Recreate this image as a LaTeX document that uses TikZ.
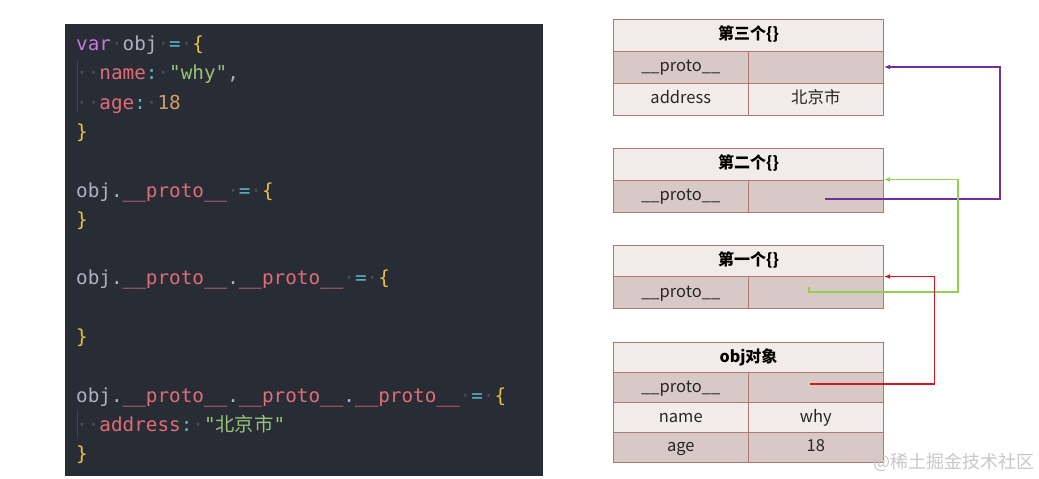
\documentclass[tikz,border=0pt]{standalone}
\usepackage{fontspec}
\setmonofont{DejaVu Sans Mono}
\newfontfamily\cjk{Noto Sans CJK SC}
\usetikzlibrary{arrows.meta}
\definecolor{codebg}{RGB}{40,44,52}
\definecolor{kwc}{RGB}{198,120,221}
\definecolor{idc}{RGB}{171,178,191}
\definecolor{opc}{RGB}{86,182,194}
\definecolor{brc}{RGB}{229,196,60}
\definecolor{prc}{RGB}{224,108,117}
\definecolor{stc}{RGB}{152,195,121}
\definecolor{nmc}{RGB}{209,154,102}
\definecolor{wsc}{RGB}{72,77,88}
\definecolor{guidec}{RGB}{62,67,77}
\definecolor{bordc}{RGB}{172,122,112}
\definecolor{hdrc}{RGB}{241,236,233}
\definecolor{darkc}{RGB}{216,201,199}
\definecolor{lightc}{RGB}{242,237,235}
\definecolor{arrp}{RGB}{112,48,160}
\definecolor{arrg}{RGB}{146,208,80}
\definecolor{arrr}{RGB}{210,25,35}
\definecolor{wmc}{RGB}{200,200,200}
\newcommand\cKw[1]{\textcolor{kwc}{#1}}
\newcommand\cId[1]{\textcolor{idc}{#1}}
\newcommand\cOp[1]{\textcolor{opc}{#1}}
\newcommand\cBr[1]{\textcolor{brc}{#1}}
\newcommand\cPr[1]{\textcolor{prc}{#1}}
\newcommand\cSt[1]{\textcolor{stc}{#1}}
\newcommand\cNm[1]{\textcolor{nmc}{#1}}
\newcommand\cWs{\textcolor{wsc}{·}}
\newcommand\cProto{\cPr{\_\_proto\_\_}}
\begin{document}
\begin{tikzpicture}[x=1pt,y=-1pt,
  codeline/.style={anchor=base west, inner sep=0pt, font=\ttfamily\fontsize{19.3}{23}\selectfont},
  guide/.style={draw=guidec, line width=1pt},
  cellbase/.style={draw=bordc, line width=1pt, anchor=north west, inner sep=0pt, text height=12pt, text depth=3pt, font=\cjk\fontsize{16.5}{19}\selectfont, text=black!85},
  hdr/.style={cellbase, fill=hdrc, minimum width=270pt, minimum height=32pt, font=\cjk\bfseries\fontsize{16}{19}\selectfont, text=black},
  cellL/.style={cellbase, minimum width=134.5pt},
  cellR/.style={cellbase, minimum width=135.5pt},
  dk/.style={fill=darkc},
  lt/.style={fill=lightc},
  link/.style={line width=1.6pt, -{Latex[length=6pt,width=5pt]}},
  wm/.style={font=\cjk\fontsize{18}{20}\selectfont, text=wmc, anchor=west, inner sep=0pt}
]
\useasboundingbox (0,0) rectangle (1039,479);
\fill[white] (0,0) rectangle (1039,479);

% code panel
\fill[codebg] (65,24) rectangle (543,476);
\draw[guide] (77,60) -- (77,113);
\draw[guide] (77,410) -- (77,438);

\node[codeline] (c0) at (76,50.5) {\cKw{var}\cWs\cId{obj}\cWs\cOp{=}\cWs\cBr{\{}};
\node[codeline] (c1) at (76,79.8) {\cWs\cWs\cPr{name}\cOp{:}\cWs\cSt{"why"}\cId{,}};
\node[codeline] (c2) at (76,109.1) {\cWs\cWs\cPr{age}\cOp{:}\cWs\cNm{18}};
\node[codeline] (c3) at (76,138.4) {\cBr{\}}};
\node[codeline] (c5) at (76,197.0) {\cId{obj.}\cProto\cWs\cOp{=}\cWs\cBr{\{}};
\node[codeline] (c6) at (76,226.3) {\cBr{\}}};
\node[codeline] (c8) at (76,284.9) {\cId{obj.}\cProto\cId{.}\cProto\cWs\cOp{=}\cWs\cBr{\{}};
\node[codeline] (c10) at (76,343.5) {\cBr{\}}};
\node[codeline] (c12) at (76,402.1) {\cId{obj.}\cProto\cId{.}\cProto\cId{.}\cProto\cWs\cOp{=}\cWs\cBr{\{}};
\node[codeline] (c13) at (76,431.4) {\cWs\cWs\cPr{address}\cOp{:}\cWs\cSt{"{\cjk 北京市}"}};
\node[codeline] (c14) at (76,460.7) {\cBr{\}}};

% box 3: 第三个{}
\node[hdr] (b3h) at (613,18.5) {第三个\{\}};
\node[cellL,dk,minimum height=32pt] (b3pl) at (613,50.5) {\_\_proto\_\_};
\node[cellR,dk,minimum height=32pt] (b3pr) at (747.5,50.5) {};
\node[cellL,lt,minimum height=32pt] (b3al) at (613,82.5) {address};
\node[cellR,lt,minimum height=32pt] (b3ar) at (747.5,82.5) {北京市};

% box 2: 第二个{}
\node[hdr] (b2h) at (613,147.5) {第二个\{\}};
\node[cellL,dk,minimum height=32pt] (b2pl) at (613,179.5) {\_\_proto\_\_};
\node[cellR,dk,minimum height=32pt] (b2pr) at (747.5,179.5) {};

% box 1: 第一个{}
\node[hdr, minimum height=31pt] (b1h) at (613,245) {第一个\{\}};
\node[cellL,dk,minimum height=32pt] (b1pl) at (613,276.3) {\_\_proto\_\_};
\node[cellR,dk,minimum height=32pt] (b1pr) at (747.5,276.3) {};

% obj
\node[hdr, minimum height=30pt] (b0h) at (613,342.3) {obj对象};
\node[cellL,dk,minimum height=30pt] (b0pl) at (613,372.3) {\_\_proto\_\_};
\node[cellR,dk,minimum height=30pt] (b0pr) at (747.5,372.3) {};
\node[cellL,lt,minimum height=29.5pt] (b0nl) at (613,402.3) {name};
\node[cellR,lt,minimum height=29.5pt] (b0nr) at (747.5,402.3) {why};
\node[cellL,dk,minimum height=30pt] (b0gl) at (613,431.8) {age};
\node[cellR,dk,minimum height=30pt] (b0gr) at (747.5,431.8) {18};

% links
\coordinate (p2s) at (825,198.8);
\coordinate (p1s) at (809,286.5);
\coordinate (p0s) at (810,384);
\draw[link, arrp] (p2s) -- ++(175,0) |- (b3pr.east);
\draw[link, arrg] (p1s) -- ++(0,5.5) -- ++(149,0) |- ([yshift=1pt]b2h.south east);
\draw[link, arrr] (p0s) -- ++(124.5,0) |- ([yshift=0.5pt]b1h.south east);

% watermark
\node[wm] (wmark) at (873,462) {@稀土掘金技术社区};
\end{tikzpicture}
\end{document}
